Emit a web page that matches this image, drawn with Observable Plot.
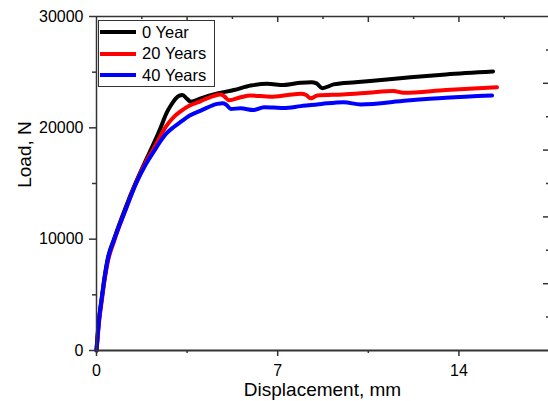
<!DOCTYPE html>
<html><head><meta charset="utf-8">
<script src="https://cdn.jsdelivr.net/npm/d3@7"></script>
<script src="https://cdn.jsdelivr.net/npm/@observablehq/plot@0.6"></script>
<style>
body{margin:0;background:#fff;font-family:"Liberation Sans",Arial,sans-serif;}
#wrap{position:relative;width:548px;height:401px;overflow:hidden;}
.legend{position:absolute;left:98px;top:20px;width:115px;height:65px;border:1px solid #333;background:#fff;font-size:16.5px;color:#000;}
.row{position:absolute;left:1px;height:22px;display:flex;align-items:center;white-space:nowrap;}
.sw{width:36px;height:4px;margin-right:6px;}
</style></head><body><div id="wrap"></div>
<script>
// ---- data ----
const seriesNames = ["0 Year", "20 Years", "40 Years"];
const seriesColors = ["#000000", "#ff0000", "#0000ff"];

const disp0 = [0, 0.05, 0.11, 0.2, 0.28, 0.43, 0.69, 1.1, 1.52, 1.9, 2.1, 2.3, 2.5, 2.7, 2.87, 3.05, 3.2, 3.32, 3.5, 3.64, 4.03, 4.67, 5.31, 5.96, 6.6, 7.23, 7.89, 8.3, 8.5, 8.72, 9.16, 10.0, 11.0, 12.13, 13.5, 15.32];
const load0 = [0, 1600, 3100, 4700, 6100, 8200, 10100, 12700, 15100, 17050, 18050, 19050, 20150, 21300, 22000, 22600, 22900, 22950, 22600, 22350, 22650, 23080, 23400, 23800, 23950, 23850, 24050, 24100, 24000, 23560, 23900, 24100, 24300, 24550, 24800, 25060];

const disp20 = [0, 0.05, 0.11, 0.2, 0.28, 0.43, 0.69, 1.1, 1.52, 1.9, 2.25, 2.5, 2.68, 3.0, 3.26, 3.6, 4.03, 4.5, 4.8, 4.95, 5.11, 5.57, 5.96, 6.73, 7.4, 7.89, 8.1, 8.27, 8.53, 9.5, 10.5, 11.47, 11.86, 13.5, 15.47];
const load20 = [0, 1300, 2800, 4400, 5800, 7900, 9900, 12500, 15000, 16900, 18300, 19400, 20100, 21000, 21500, 22000, 22400, 22850, 23000, 22800, 22480, 22750, 22900, 22800, 22950, 23060, 22950, 22650, 22900, 23000, 23150, 23300, 23150, 23400, 23650];

const disp40 = [0, 0.05, 0.11, 0.2, 0.28, 0.43, 0.69, 1.1, 1.52, 1.9, 2.25, 2.5, 2.7, 3.0, 3.26, 3.6, 4.03, 4.67, 4.87, 5.0, 5.19, 5.57, 6.07, 6.47, 6.85, 7.23, 7.89, 8.7, 9.55, 10.2, 12.0, 13.5, 15.28];
const load40 = [0, 1500, 3000, 4600, 6000, 8100, 10000, 12500, 14950, 16700, 18000, 18900, 19500, 20100, 20550, 21100, 21550, 22150, 22200, 22100, 21700, 21750, 21600, 21850, 21820, 21780, 21950, 22150, 22300, 22100, 22450, 22700, 22900];

const xMajorTicks = [0, 7, 14];
const xMinorTicks = [3.5, 10.5];
const topMajorTicks = [3.5, 7, 10.5, 14];
const topMinorTicks = [1.75, 5.25, 8.75, 12.25, 15.75];
const yMajorTicks = [0, 10000, 20000, 30000];
const yMinorTicks = [5000, 15000, 25000];
const rightMajorTicks = [6000, 12000, 18000, 24000];
const rightMinorTicks = [3000, 9000, 15000, 21000, 27000];
const xLabel = "Displacement, mm";
const yLabel = "Load, N";

// ---- build ----
const dispAll = [disp0, disp20, disp40];
const loadAll = [load0, load20, load40];
const rows = [];
seriesNames.forEach((s, i) => dispAll[i].forEach((d, j) => rows.push({s, d, L: loadAll[i][j]})));

const W = 548, H = 401, mL = 96, mR = 0, mT = 16, mB = 51;
const xMax = 17.46, yMax = 30000;
const pxX = xMax / (W - mL - mR), pxY = yMax / (H - mT - mB);
const axisColor = "#333";
const plain = d => String(d);

const chart = Plot.plot({
  width: W, height: H,
  marginLeft: mL, marginRight: mR, marginTop: mT, marginBottom: mB,
  x: {domain: [0, xMax]},
  y: {domain: [0, yMax]},
  color: {domain: seriesNames, range: seriesColors},
  style: {fontFamily: "'Liberation Sans', Arial, sans-serif", fontSize: "16px", color: "#000", background: "#fff", overflow: "visible"},
  marks: [
    Plot.line(rows, {x: "d", y: "L", z: "s", stroke: "s", strokeWidth: 4, curve: "monotone-x", strokeLinejoin: "round"}),
    Plot.ruleX([0], {stroke: axisColor, strokeWidth: 1.5}),
    Plot.ruleY([0], {stroke: axisColor, strokeWidth: 2}),
    Plot.ruleY([yMax], {stroke: axisColor, strokeWidth: 1.5}),
    Plot.axisY(yMajorTicks, {tickSize: 7, tickPadding: 6, tickFormat: plain, label: null, stroke: axisColor, strokeWidth: 1.5, fontSize: 16}),
    Plot.axisY(yMinorTicks, {tickSize: 4, tickFormat: () => "", label: null, stroke: axisColor, strokeWidth: 1.5}),
    Plot.axisX(xMajorTicks, {tickSize: 6, tickPadding: 8, tickFormat: plain, label: null, stroke: axisColor, strokeWidth: 1.5, fontSize: 16}),
    Plot.axisX(xMinorTicks, {tickSize: 3, tickFormat: () => "", label: null, stroke: axisColor, strokeWidth: 1.5}),
    Plot.ruleX(topMajorTicks, {x: d => d, y1: yMax, y2: yMax - 6 * pxY, stroke: axisColor, strokeWidth: 1.5}),
    Plot.ruleX(topMinorTicks, {x: d => d, y1: yMax, y2: yMax - 3 * pxY, stroke: axisColor, strokeWidth: 1.5}),
    Plot.ruleY(rightMajorTicks, {y: d => d, x1: xMax - 5 * pxX, x2: xMax, stroke: axisColor, strokeWidth: 1.5}),
    Plot.ruleY(rightMinorTicks, {y: d => d, x1: xMax - 2 * pxX, x2: xMax, stroke: axisColor, strokeWidth: 1.5}),
    Plot.text([yLabel], {frameAnchor: "left", dx: -72, dy: -29, rotate: -90, textAnchor: "middle", fontSize: 19}),
    Plot.text([xLabel], {frameAnchor: "bottom", dy: 45, lineAnchor: "bottom", fontSize: 19})
  ]
});

const wrap = document.getElementById("wrap");
wrap.appendChild(chart);
chart.style.position = "absolute"; chart.style.left = "0"; chart.style.top = "0";

const leg = document.createElement("div");
leg.className = "legend";
seriesNames.forEach((s, i) => {
  const r = document.createElement("div");
  r.className = "row";
  r.style.top = (i * 21.5) + "px";
  const sw = document.createElement("div");
  sw.className = "sw"; sw.style.background = seriesColors[i];
  const t = document.createElement("span");
  t.textContent = s;
  r.appendChild(sw); r.appendChild(t);
  leg.appendChild(r);
});
wrap.appendChild(leg);
</script>
</body></html>
